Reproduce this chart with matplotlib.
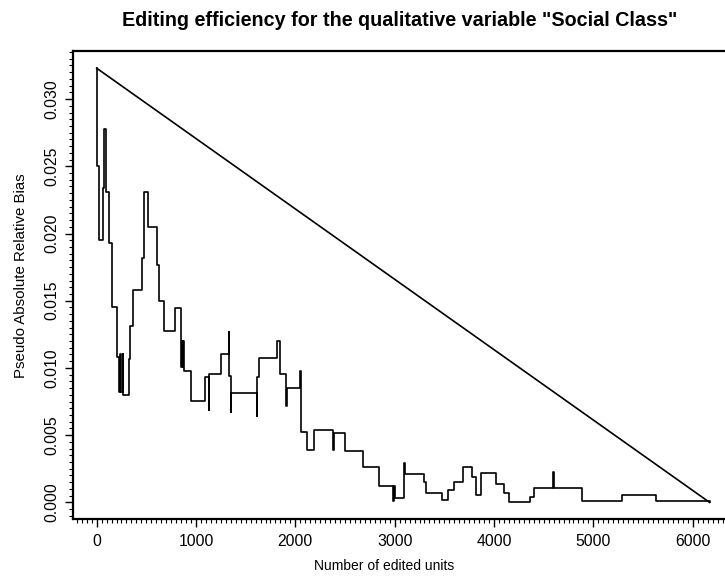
import matplotlib
matplotlib.use("Agg")
import matplotlib.pyplot as plt
from matplotlib.ticker import MultipleLocator

plt.rcParams['font.family'] = ['Liberation Sans', 'DejaVu Sans']

# Step curve: number of edited units at which the bias changes, and bias level from there on
edited_units = [0, 5, 25, 60, 77, 97, 124, 150, 201, 225, 240, 250, 262, 268, 322, 340, 365,
                456, 478, 518, 610, 628, 681, 785, 852, 858, 866, 872, 880, 953, 1094, 1128,
                1134, 1255, 1329, 1336, 1350, 1356, 1611, 1617, 1631, 1812, 1843, 1906, 1913,
                2044, 2054, 2114, 2189, 2383, 2390, 2500, 2678, 2838, 2987, 2995, 3004, 3098,
                3106, 3293, 3313, 3474, 3541, 3598, 3692, 3782, 3817, 3867, 4024, 4098, 4149,
                4364, 4407, 4592, 4608, 4887, 5293, 5629, 6169]
bias = [0.0323, 0.0250, 0.0195, 0.0234, 0.0278, 0.0231, 0.0193, 0.01455, 0.0108, 0.0082,
        0.0110, 0.0082, 0.0110, 0.0080, 0.0107, 0.0131, 0.0158, 0.0182, 0.0231, 0.0205,
        0.01766, 0.0150, 0.01277, 0.01448, 0.0101, 0.0120, 0.0101, 0.0120, 0.00977, 0.00756,
        0.0093, 0.0069, 0.00955, 0.0110, 0.01265, 0.0094, 0.00674, 0.00813, 0.00644, 0.00934,
        0.01074, 0.0120, 0.00955, 0.00716, 0.00853, 0.00977, 0.00525, 0.00389, 0.00538,
        0.00389, 0.00513, 0.00384, 0.00265, 0.00124, 0.0001, 0.00124, 0.00034, 0.0029,
        0.00208, 0.00153, 0.00071, 0.00017, 0.00092, 0.00149, 0.00265, 0.00186, 0.00054,
        0.00216, 0.00134, 0.00067, 0.00005, 0.00037, 0.00109, 0.00223, 0.00104, 0.00012,
        0.00054, 0.00012, 0.0]

# Reference diagonal
diag_x = [0, 6169]
diag_y = [0.0323, 0.0]

x_ticks = [0, 1000, 2000, 3000, 4000, 5000, 6000]
y_ticks = [0.000, 0.005, 0.010, 0.015, 0.020, 0.025, 0.030]
y_tick_labels = ["0.000", "0.005", "0.010", "0.015", "0.020", "0.025", "0.030"]

fig = plt.figure(figsize=(7.25, 5.79), dpi=100)
ax = fig.add_axes([73/725, 1 - 519/579, 1 - 73/725, (519 - 50.7)/579])

ax.plot(edited_units, bias, drawstyle='steps-post', color='black', lw=1.2)
ax.plot(diag_x, diag_y, color='black', lw=1.2)

ax.set_xlim(-238, 6325)
ax.set_ylim(-0.00124, 0.0336)

ax.set_xticks(x_ticks)
ax.set_xticklabels([str(v) for v in x_ticks])
ax.set_yticks(y_ticks)
ax.set_yticklabels(y_tick_labels, rotation=90, va='center')
ax.xaxis.set_minor_locator(MultipleLocator(50))
ax.yaxis.set_minor_locator(MultipleLocator(0.0005))

ax.tick_params(which='major', length=5.5, width=1.0, labelsize=11.3, pad=5, color='black')
ax.tick_params(which='minor', length=3, width=0.8, color='black')
ax.tick_params(axis='y', which='major', pad=4)

for s in ['left', 'bottom', 'top']:
    ax.spines[s].set_linewidth(1.6)
ax.spines['right'].set_visible(False)

fig.text(400/725, 1 - 20/579, 'Editing efficiency for the qualitative variable "Social Class"',
         ha='center', va='center', fontsize=14.2, fontweight='bold')
fig.text(384/725, 1 - 566/579, 'Number of edited units', ha='center', va='center', fontsize=10)
fig.text(21/725, 1 - 276/579, 'Pseudo Absolute Relative Bias', ha='center', va='center',
         rotation=90, fontsize=10.8)

fig.savefig('out.png', dpi=100)
